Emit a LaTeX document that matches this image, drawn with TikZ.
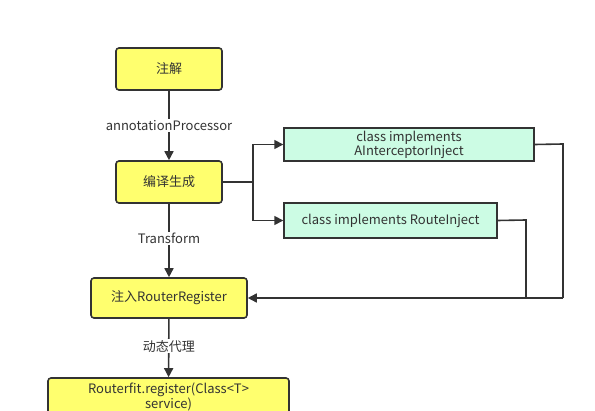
\documentclass[tikz,border=0pt]{standalone}
\usepackage{fontspec}
\setmainfont{Noto Sans CJK SC}
\usetikzlibrary{arrows.meta}
\definecolor{ybox}{HTML}{FFFF6E}
\definecolor{gbox}{HTML}{CCFCE4}
\definecolor{ln}{HTML}{333333}
\tikzset{
  ynode/.style={draw=ln, line width=1.6pt, fill=ybox, rounded corners=3pt, inner sep=0pt, font=\fontsize{13}{15}\selectfont, align=center, text=ln},
  gnode/.style={draw=ln, line width=1.4pt, fill=gbox, inner sep=0pt, font=\fontsize{13}{14}\selectfont, align=center, text=ln},
  conn/.style={draw=ln, line width=1.6pt},
  arr/.style={conn, -{Triangle[length=9pt,width=9pt]}},
  lbl/.style={fill=white, inner sep=1pt, font=\fontsize{13}{15}\selectfont, text=ln},
}
\begin{document}
\begin{tikzpicture}[x=1pt,y=-1pt]
\clip (0,0) rectangle (595,411);
\fill[white] (0,0) rectangle (595,411);
\node[ynode, minimum width=106pt, minimum height=42pt] (zj) at (169,69) {注解};
\node[ynode, minimum width=106pt, minimum height=42pt] (by) at (169,182) {编译生成};
\node[ynode, minimum width=156pt, minimum height=40pt] (zr) at (169,298) {注入RouterRegister};
\node[ynode, minimum width=241pt, minimum height=38pt] (rf) at (168.5,397) {Routerfit.register(Class<T>\\service)};
\node[gnode, minimum width=250pt, minimum height=33pt] (g1) at (409,144.5) {class implements\\AInterceptorInject};
\node[gnode, minimum width=213pt, minimum height=35pt] (g2) at (390.5,220.5) {class implements RouteInject};
\coordinate (sp) at (253,182);
\coordinate (r1) at (563,144);
\coordinate (r2) at (526,220);
\coordinate (b1) at (563,298);
\coordinate (b2) at (526,298);
\draw[arr] (zj) -- node[lbl]{annotationProcessor} (by);
\draw[arr] (by) -- node[lbl, pos=0.47]{Transform} (zr);
\draw[arr] (zr) -- node[lbl, pos=0.47]{动态代理} (rf);
\draw[conn] (by.east) -- (sp);
\draw[arr] (sp) |- (g1.west);
\draw[arr] (sp) |- (g2.west);
\draw[conn] (g1.east) -- (r1) -- (b1);
\draw[conn] (g2.east) -- (r2) -- (b2);
\draw[arr] (b1) -- (zr.east);
\end{tikzpicture}
\end{document}
